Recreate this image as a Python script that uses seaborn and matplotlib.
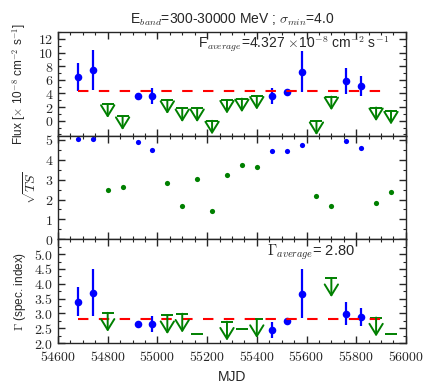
# -*- coding: utf-8 -*-
import numpy as np
import matplotlib
matplotlib.use('Agg')
import matplotlib.pyplot as plt
from matplotlib.ticker import MultipleLocator, FixedLocator, FuncFormatter
import seaborn as sns

# time bins (MJD), detections and upper limits
det_mjd = [54680, 54740, 54920, 54980, 55460, 55520, 55580, 55760, 55820]
det_flux = [6.39, 7.50, 3.70, 3.56, 3.66, 4.21, 7.17, 5.90, 5.08]
det_flux_lo = [4.35, 4.45, 3.25, 2.42, 2.42, 4.05, 4.21, 3.97, 3.63]
det_flux_hi = [8.47, 10.40, 4.12, 4.85, 4.85, 4.37, 10.26, 7.75, 6.53]
det_ts = [5.05, 5.05, 4.87, 4.50, 4.43, 4.46, 4.73, 4.95, 4.61]
det_gamma = [3.40, 3.70, 2.65, 2.64, 2.44, 2.75, 3.67, 2.99, 2.87]
det_gamma_lo = [2.91, 2.91, 2.58, 2.36, 2.16, 2.71, 2.86, 2.61, 2.57]
det_gamma_hi = [3.88, 4.51, 2.72, 2.92, 2.72, 2.79, 4.51, 3.38, 3.17]

ul_mjd = [54800, 54860, 55040, 55100, 55160, 55220, 55280, 55340, 55400,
          55640, 55700, 55880, 55940]
ul_flux = [2.42, 0.64, 3.00, 1.80, 1.80, 0.00, 3.05, 3.25, 3.63,
           -0.10, 3.54, 1.94, 1.45]
ul_ts = [2.46, 2.63, 2.81, 1.67, 3.05, 1.40, 3.25, 3.74, 3.62,
         2.19, 1.67, 1.82, 2.37]
ul_gamma = [3.02, np.nan, 2.94, 2.99, 2.29, np.nan, 2.72, 2.48, 2.81,
            np.nan, 4.19, 2.86, 2.29]
ul_flux_len = 2.0
ul_gamma_len = 0.64

avg_mjd = [54680, 55910]
flux_avg = 4.327
gamma_avg = 2.80

flux_ticks = [0, 2, 4, 6, 8, 10, 12]
ts_ticks = [0, 1, 2, 3, 4, 5]
gamma_ticks = [2.0, 2.5, 3.0, 3.5, 4.0, 4.5, 5.0]

sns.set_style('ticks', {'xtick.direction': 'in', 'ytick.direction': 'in'})
plt.rcParams['font.family'] = ['Liberation Sans', 'DejaVu Sans']
plt.rcParams['mathtext.fontset'] = 'cm'
plt.rcParams['axes.linewidth'] = 1.0

fig, (ax1, ax2, ax3) = plt.subplots(3, 1, sharex=True, figsize=(4.36, 3.92), dpi=100)
fig.subplots_adjust(left=0.133, right=0.931, bottom=0.125, top=0.918, hspace=0)


def draw_ul(ax, xs, ys, length):
    for x, y in zip(xs, ys):
        if np.isnan(y):
            continue
        ax.annotate('', xy=(x, y - length), xytext=(x, y),
                    arrowprops=dict(arrowstyle='->, head_width=0.4, head_length=0.65',
                                    color='green', lw=1.4, shrinkA=0, shrinkB=0,
                                    mutation_scale=12))
    ax.plot(xs, ys, ls='none', marker='_', ms=9, mew=1.4, color='green')


# flux panel
ax1.errorbar(det_mjd, det_flux,
             yerr=[np.subtract(det_flux, det_flux_lo), np.subtract(det_flux_hi, det_flux)],
             fmt='none', ecolor='blue', elinewidth=1.6, capsize=0)
sns.scatterplot(x=det_mjd, y=det_flux, color='blue', s=30, linewidth=0, ax=ax1)
draw_ul(ax1, ul_mjd, ul_flux, ul_flux_len)
ax1.plot(avg_mjd, [flux_avg, flux_avg], color='red', lw=1.5, dashes=(5, 5))
ax1.set_ylim(-2.2, 13)
ax1.yaxis.set_major_locator(FixedLocator(flux_ticks))
ax1.yaxis.set_minor_locator(MultipleLocator(1))
ax1.set_ylabel(r'Flux [$\times$ 10$^{-8}$ cm$^{-2}$ s$^{-1}$]', fontsize=8.5)
ax1.text(0.951, 0.885, r'F$_{average}$=4.327 $\times$10$^{-8}$ cm$^{-2}$ s$^{-1}$',
         transform=ax1.transAxes, ha='right', va='center', fontsize=10)
ax1.set_title(r'E$_{band}$=300-30000 MeV ; $\sigma_{min}$=4.0', fontsize=10, pad=6)

# TS panel
sns.scatterplot(x=det_mjd, y=det_ts, color='blue', s=14, linewidth=0, ax=ax2)
sns.scatterplot(x=ul_mjd, y=ul_ts, color='green', s=14, linewidth=0, ax=ax2)
ax2.set_ylim(0, 5.2)
ax2.yaxis.set_major_locator(FixedLocator(ts_ticks))
ax2.yaxis.set_minor_locator(MultipleLocator(0.5))
ax2.set_ylabel(r'$\sqrt{TS}$', fontsize=10)

# photon index panel
ax3.errorbar(det_mjd, det_gamma,
             yerr=[np.subtract(det_gamma, det_gamma_lo), np.subtract(det_gamma_hi, det_gamma)],
             fmt='none', ecolor='blue', elinewidth=1.6, capsize=0)
sns.scatterplot(x=det_mjd, y=det_gamma, color='blue', s=30, linewidth=0, ax=ax3)
draw_ul(ax3, ul_mjd, ul_gamma, ul_gamma_len)
ax3.plot(avg_mjd, [gamma_avg, gamma_avg], color='red', lw=1.5, dashes=(5, 5))
ax3.set_ylim(2.0, 5.5)
ax3.yaxis.set_major_locator(FixedLocator(gamma_ticks))
ax3.yaxis.set_minor_locator(MultipleLocator(0.25))
ax3.set_ylabel(r'$\Gamma$ (spec. index)', fontsize=8.5)
ax3.text(0.60, 0.877, r'$\Gamma_{average}$= 2.80', transform=ax3.transAxes,
         ha='left', va='center', fontsize=10.5)
ax3.set_xlabel('MJD', fontsize=10)

ax3.set_xlim(54600, 56000)
ax3.xaxis.set_major_locator(MultipleLocator(200))
ax3.xaxis.set_minor_locator(MultipleLocator(50))

for ax, fmt in [(ax1, '{:g}'), (ax2, '{:g}'), (ax3, '{:.1f}')]:
    ax.tick_params(which='both', direction='in', top=True, right=True, labelsize=10)
    ax.tick_params(which='major', length=5, width=1)
    ax.tick_params(which='minor', length=2.5, width=0.8)
    ax.yaxis.set_major_formatter(FuncFormatter(lambda v, p, f=fmt: '$' + f.format(v) + '$'))
ax3.xaxis.set_major_formatter(FuncFormatter(lambda v, p: '$%d$' % v))
ax3.tick_params(axis='x', pad=5)
fig.align_ylabels([ax1, ax3])

fig.savefig('out.png', dpi=100)
